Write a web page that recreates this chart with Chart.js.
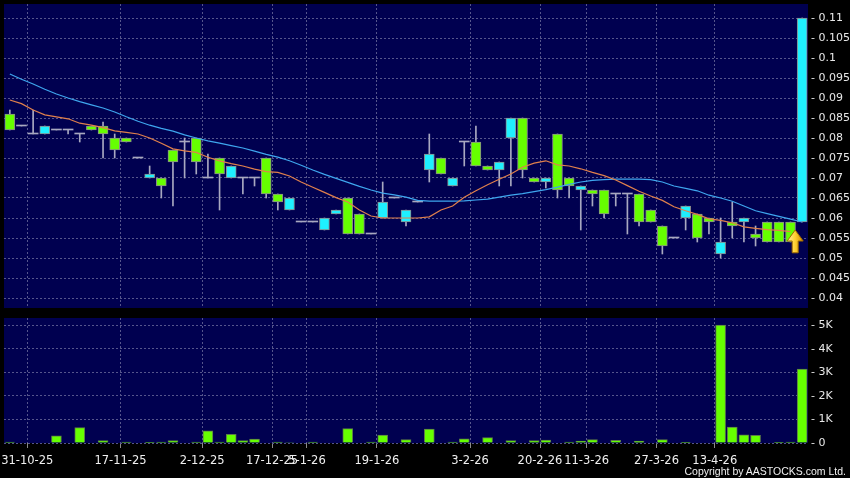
<!DOCTYPE html>
<html>
<head>
<meta charset="utf-8">
<script src="https://cdn.jsdelivr.net/npm/chart.js@4.4.0/dist/chart.umd.min.js"></script>
<style>
html, body { margin: 0; padding: 0; background: #000; }
#wrap { position: relative; width: 850px; height: 478px; overflow: hidden; }
#priceChart { position: absolute; left: 0; top: 0; }
#volChart { position: absolute; left: 0; top: 312px; }
#copy { position: absolute; right: 4px; top: 465px; line-height: 12px; color: #f0f0f0; font: 10.5px "Liberation Sans", Arial, sans-serif; }
</style>
</head>
<body>
<div id="wrap">
  <canvas id="priceChart" width="850" height="312"></canvas>
  <canvas id="volChart" width="850" height="166"></canvas>
  <div id="copy">Copyright by AASTOCKS.com Ltd.</div>
</div>
<script>
// daily candles, oldest first
const candleOpen = [
  0.086, 0.083, 0.081, 0.081, 0.082, 0.082, 0.081, 0.083, 0.083, 0.080,
  0.080, 0.075, 0.070, 0.070, 0.077, 0.079, 0.080, 0.070, 0.075, 0.070,
  0.070, 0.070, 0.075, 0.066, 0.062, 0.059, 0.059, 0.057, 0.061, 0.065,
  0.061, 0.056, 0.060, 0.065, 0.059, 0.064, 0.072, 0.075, 0.068, 0.079,
  0.079, 0.073, 0.072, 0.080, 0.085, 0.070, 0.069, 0.081, 0.070, 0.067,
  0.067, 0.067, 0.066, 0.066, 0.066, 0.062, 0.058, 0.055, 0.060, 0.061,
  0.060, 0.051, 0.059, 0.059, 0.056, 0.059, 0.059, 0.059, 0.059
];
const candleHigh = [
  0.087, 0.083, 0.087, 0.083, 0.082, 0.082, 0.081, 0.083, 0.084, 0.081,
  0.080, 0.075, 0.073, 0.070, 0.077, 0.080, 0.080, 0.076, 0.075, 0.073,
  0.070, 0.070, 0.075, 0.066, 0.065, 0.059, 0.059, 0.060, 0.062, 0.065,
  0.061, 0.056, 0.069, 0.065, 0.062, 0.064, 0.081, 0.075, 0.070, 0.079,
  0.083, 0.073, 0.074, 0.085, 0.085, 0.070, 0.070, 0.081, 0.070, 0.068,
  0.067, 0.067, 0.066, 0.066, 0.066, 0.062, 0.058, 0.055, 0.063, 0.061,
  0.060, 0.060, 0.064, 0.060, 0.058, 0.059, 0.059, 0.059, 0.110
];
const candleLow = [
  0.082, 0.083, 0.081, 0.081, 0.082, 0.081, 0.079, 0.082, 0.075, 0.075,
  0.079, 0.075, 0.070, 0.065, 0.063, 0.070, 0.071, 0.070, 0.062, 0.070,
  0.066, 0.068, 0.065, 0.062, 0.062, 0.059, 0.059, 0.057, 0.061, 0.056,
  0.056, 0.056, 0.060, 0.065, 0.058, 0.064, 0.069, 0.071, 0.068, 0.073,
  0.073, 0.072, 0.068, 0.068, 0.070, 0.069, 0.0675, 0.065, 0.065, 0.057,
  0.063, 0.060, 0.063, 0.056, 0.058, 0.059, 0.051, 0.055, 0.057, 0.054,
  0.056, 0.050, 0.055, 0.054, 0.053, 0.054, 0.054, 0.054, 0.059
];
const candleClose = [
  0.082, 0.083, 0.081, 0.083, 0.082, 0.082, 0.081, 0.082, 0.081, 0.077,
  0.079, 0.075, 0.071, 0.068, 0.074, 0.079, 0.074, 0.070, 0.071, 0.073,
  0.070, 0.070, 0.066, 0.064, 0.065, 0.059, 0.059, 0.060, 0.062, 0.056,
  0.056, 0.056, 0.064, 0.065, 0.062, 0.064, 0.076, 0.071, 0.070, 0.079,
  0.073, 0.072, 0.074, 0.085, 0.072, 0.069, 0.070, 0.067, 0.068, 0.068,
  0.066, 0.061, 0.066, 0.066, 0.059, 0.059, 0.053, 0.055, 0.063, 0.055,
  0.059, 0.054, 0.058, 0.060, 0.055, 0.054, 0.054, 0.054, 0.110
];
const volume = [
  40, 0, 0, 0, 300, 0, 650, 0, 100, 0,
  40, 0, 30, 40, 100, 0, 40, 520, 40, 370,
  100, 170, 0, 40, 20, 0, 40, 0, 0, 610,
  0, 40, 340, 0, 140, 0, 590, 0, 40, 180,
  0, 225, 0, 100, 0, 100, 125, 0, 40, 85,
  140, 0, 110, 0, 80, 0, 140, 0, 15, 0,
  0, 5000, 680, 350, 325, 0, 15, 40, 3130
];
// moving averages
const maShort = [
  0.0895, 0.0886, 0.0870, 0.0858, 0.0853, 0.0848, 0.0837, 0.0832, 0.0826, 0.0818,
  0.0814, 0.0810, 0.0800, 0.0787, 0.0773, 0.0768, 0.0764, 0.0752, 0.0743, 0.0736,
  0.0730, 0.0722, 0.0716, 0.0714, 0.0705, 0.0690, 0.0677, 0.0664, 0.0651, 0.0640,
  0.0620, 0.0605, 0.0600, 0.0600, 0.0600, 0.0600, 0.0603, 0.0620, 0.0630, 0.0652,
  0.0668, 0.0683, 0.0697, 0.0710, 0.0727, 0.0737, 0.0743, 0.0733, 0.0730, 0.0723,
  0.0714, 0.0706, 0.0695, 0.0681, 0.0667, 0.0655, 0.0644, 0.0628, 0.0618, 0.0609,
  0.0598, 0.0594, 0.0588, 0.0578, 0.0574, 0.0571, 0.0569, 0.0566, null
];
const maLong = [
  0.0960, 0.0947, 0.0935, 0.0922, 0.0910, 0.0900, 0.0891, 0.0883, 0.0875, 0.0865,
  0.0853, 0.0842, 0.0832, 0.0824, 0.0817, 0.0808, 0.0800, 0.0793, 0.0787, 0.0781,
  0.0775, 0.0767, 0.0759, 0.0752, 0.0743, 0.0732, 0.0720, 0.0709, 0.0699, 0.0689,
  0.0679, 0.0670, 0.0662, 0.0658, 0.0652, 0.0644, 0.0642, 0.0642, 0.0642, 0.0643,
  0.0645, 0.0647, 0.0652, 0.0657, 0.0661, 0.0666, 0.0671, 0.0677, 0.0684, 0.0690,
  0.0694, 0.0696, 0.0697, 0.0697, 0.0697, 0.0696, 0.0690, 0.0680, 0.0674, 0.0668,
  0.0657, 0.0650, 0.0642, 0.0630, 0.0618, 0.0611, 0.0604, 0.0597, 0.0590
];
// x labels sit on the left edge of these candles
const tickIndex = [2, 10, 17, 23, 26, 32, 40, 46, 50, 56, 61];
const tickLabels = ['31-10-25', '17-11-25', '2-12-25', '17-12-25', '5-1-26', '19-1-26',
  '3-2-26', '20-2-26', '11-3-26', '27-3-26', '13-4-26'];
const priceTicks = [0.04, 0.045, 0.05, 0.055, 0.06, 0.065, 0.07, 0.075, 0.08, 0.085, 0.09, 0.095, 0.1, 0.105, 0.11];
const volumeTicks = [0, 1000, 2000, 3000, 4000, 5000];
// yellow marker under the last candle
const arrowIndex = 67.4;
const arrowTop = 0.057;
const arrowBottom = 0.0513;

const n = candleOpen.length;
const xs = candleOpen.map((_, i) => i);
const UP = '#1ff0ff', DOWN = '#66ff00', FLAT = '#a8a8c0';
const GRID = '#55558c';

const areaBg = {
  id: 'areaBg',
  beforeDraw(chart) {
    const { ctx, chartArea: a } = chart;
    ctx.save();
    ctx.fillStyle = '#000050';
    ctx.fillRect(a.left, a.top, a.right - a.left, a.bottom - a.top);
    ctx.restore();
  }
};

const arrowMark = {
  id: 'arrowMark',
  afterDatasetsDraw(chart) {
    const { ctx, scales: { x, y } } = chart;
    const cx = x.getPixelForValue(arrowIndex);
    const top = y.getPixelForValue(arrowTop);
    const bot = y.getPixelForValue(arrowBottom);
    const hw = 8, sw = 3, hh = 11;
    const g = ctx.createLinearGradient(cx - hw, 0, cx + hw, 0);
    g.addColorStop(0, '#fff0a0');
    g.addColorStop(0.5, '#ffd030');
    g.addColorStop(1, '#d08a00');
    ctx.save();
    ctx.beginPath();
    ctx.moveTo(cx, top);
    ctx.lineTo(cx + hw, top + hh);
    ctx.lineTo(cx + sw, top + hh);
    ctx.lineTo(cx + sw, bot);
    ctx.lineTo(cx - sw, bot);
    ctx.lineTo(cx - sw, top + hh);
    ctx.lineTo(cx - hw, top + hh);
    ctx.closePath();
    ctx.fillStyle = g;
    ctx.fill();
    ctx.strokeStyle = '#a06a00';
    ctx.lineWidth = 1;
    ctx.stroke();
    ctx.restore();
  }
};

function noPad(axis) {
  axis.paddingTop = 0;
  axis.paddingBottom = 0;
  axis.paddingLeft = 0;
  axis.paddingRight = 0;
}

const xAxisBase = {
  type: 'linear',
  min: -0.5,
  max: n - 0.5,
  offset: false,
  afterBuildTicks: (axis) => { axis.ticks = tickIndex.map(i => ({ value: i - 0.5 })); },
  border: { display: false, dash: [2, 2] },
};

const candleColor = xs.map(i => candleClose[i] > candleOpen[i] ? UP : (candleClose[i] < candleOpen[i] ? DOWN : FLAT));

const priceChart = new Chart(document.getElementById('priceChart'), {
  type: 'bar',
  data: {
    datasets: [
      {
        type: 'line',
        data: xs.map(i => ({ x: i, y: maShort[i] })),
        borderColor: '#e0804c',
        borderWidth: 1.2,
        pointRadius: 0,
        order: 1
      },
      {
        type: 'line',
        data: xs.map(i => ({ x: i, y: maLong[i] })),
        borderColor: '#3ea6ee',
        borderWidth: 1.2,
        pointRadius: 0,
        order: 2
      },
      {
        data: xs.map(i => ({ x: i, y: [candleOpen[i], candleClose[i]] })),
        backgroundColor: candleColor,
        borderColor: '#8a8a8a',
        borderWidth: xs.map(i => candleOpen[i] === candleClose[i] ? 0 : 1),
        borderSkipped: false,
        barThickness: 10,
        minBarLength: 1,
        grouped: false,
        order: 3
      },
      {
        data: xs.map(i => ({ x: i, y: [candleLow[i], candleHigh[i]] })),
        backgroundColor: FLAT,
        borderWidth: 0,
        barThickness: 1,
        grouped: false,
        order: 4
      }
    ]
  },
  options: {
    responsive: false,
    animation: false,
    layout: { padding: { left: 4, top: 4, bottom: 4, right: 0 } },
    plugins: { legend: { display: false }, tooltip: { enabled: false } },
    scales: {
      x: Object.assign({}, xAxisBase, {
        ticks: { display: false },
        grid: { color: GRID, drawTicks: false, offset: false },
        afterFit: (axis) => { axis.height = 0; noPad(axis); }
      }),
      y: {
        position: 'right',
        min: 0.0375,
        max: 0.1135,
        afterBuildTicks: (axis) => { axis.ticks = priceTicks.map(v => ({ value: v })); },
        afterFit: (axis) => { axis.width = 42; noPad(axis); },
        border: { display: false, dash: [2, 2] },
        grid: { color: GRID, drawTicks: false },
        ticks: {
          padding: 3,
          color: '#e8e8e8',
          font: { family: 'DejaVu Sans', size: 11 },
          callback: (v) => '- ' + parseFloat(v.toFixed(3))
        }
      }
    }
  },
  plugins: [areaBg, arrowMark]
});

const volChart = new Chart(document.getElementById('volChart'), {
  type: 'bar',
  data: {
    datasets: [{
      data: xs.map(i => ({ x: i, y: volume[i] })),
      backgroundColor: DOWN,
      borderColor: '#5c7a48',
      borderWidth: 1,
      barThickness: 10
    }]
  },
  options: {
    responsive: false,
    animation: false,
    layout: { padding: { left: 4, top: 6, bottom: 0, right: 0 } },
    plugins: { legend: { display: false }, tooltip: { enabled: false } },
    scales: {
      x: Object.assign({}, xAxisBase, {
        grid: { color: GRID, offset: false, drawTicks: true, tickLength: 5, tickColor: '#8a8a8a', tickBorderDash: [] },
        ticks: {
          autoSkip: false,
          maxRotation: 0,
          padding: 6,
          color: '#f0f0f0',
          font: { family: 'DejaVu Sans', size: 11.5 },
          callback: (v, i) => tickLabels[i]
        },
        afterFit: (axis) => { axis.height = 35; noPad(axis); }
      }),
      y: {
        position: 'right',
        min: 0,
        max: 5300,
        afterBuildTicks: (axis) => { axis.ticks = volumeTicks.map(v => ({ value: v })); },
        afterFit: (axis) => { axis.width = 42; noPad(axis); },
        border: { display: false, dash: [2, 2] },
        grid: { color: GRID, drawTicks: false },
        ticks: {
          padding: 3,
          color: '#e8e8e8',
          font: { family: 'DejaVu Sans', size: 11 },
          callback: (v) => '- ' + (v === 0 ? '0' : (v / 1000) + 'K')
        }
      }
    }
  },
  plugins: [areaBg]
});
</script>
</body>
</html>
